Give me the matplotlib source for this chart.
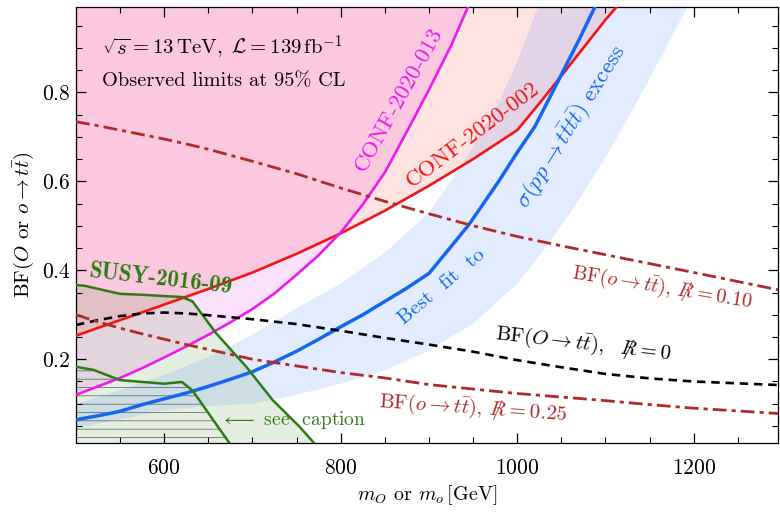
import numpy as np
import matplotlib
matplotlib.use("Agg")
import matplotlib.pyplot as plt

plt.rcParams["font.family"] = "serif"
plt.rcParams["font.serif"] = ["cmr10"]
plt.rcParams["mathtext.fontset"] = "cm"
plt.rcParams["axes.formatter.use_mathtext"] = True
plt.rcParams["axes.unicode_minus"] = False
plt.rcParams["hatch.linewidth"] = 0.5
plt.rcParams["hatch.color"] = "#555555"

# CONF-2020-002 (red) limit
red_m = [500, 550, 600, 650, 700, 750, 800, 850, 900, 950, 1000, 1025, 1050, 1075, 1100, 1116]
red_bf = [0.253, 0.288, 0.323, 0.358, 0.395, 0.437, 0.483, 0.534, 0.59, 0.65, 0.715, 0.775,
          0.837, 0.90, 0.963, 1.0]

# CONF-2020-013 (magenta) limit
mag_m = [500, 525, 550, 575, 600, 625, 650, 675, 700, 725, 750, 775, 800, 825, 850, 875,
         900, 925, 946]
mag_bf = [0.12, 0.139, 0.158, 0.18, 0.204, 0.229, 0.255, 0.283, 0.313, 0.348, 0.39, 0.434,
          0.485, 0.548, 0.62, 0.712, 0.806, 0.905, 1.0]

# best fit to the 4-top excess (blue) and its band
fit_m = [500, 525, 550, 575, 600, 625, 650, 675, 700, 725, 750, 775, 800, 825, 850, 875,
         900, 922, 945, 960, 980, 1000, 1020, 1047, 1070, 1090]
fit_bf = [0.064, 0.073, 0.083, 0.098, 0.111, 0.124, 0.139, 0.155, 0.172, 0.194, 0.218, 0.245,
          0.273, 0.30, 0.33, 0.36, 0.393, 0.446, 0.502, 0.545, 0.603, 0.665, 0.723, 0.828,
          0.918, 1.0]
band_hi_m = [500, 550, 600, 650, 700, 750, 800, 850, 900, 940, 980, 1000, 1025]
band_hi_bf = [0.10, 0.13, 0.165, 0.205, 0.255, 0.315, 0.37, 0.44, 0.53, 0.645, 0.78, 0.87, 1.0]
band_lo_m = [500, 550, 600, 650, 700, 750, 800, 850, 900, 950, 1000, 1030, 1070, 1105, 1150, 1195]
band_lo_bf = [0.045, 0.065, 0.085, 0.095, 0.10, 0.12, 0.145, 0.175, 0.22, 0.28, 0.37, 0.445,
              0.558, 0.67, 0.83, 1.0]

# SUSY-2016-09 (green): outer and hatched contours
susy_m = [500, 510, 550, 575, 600, 620, 632, 659, 693, 723, 753, 775]
susy_bf = [0.367, 0.365, 0.347, 0.345, 0.342, 0.340, 0.330, 0.258, 0.183, 0.108, 0.049, 0.0]
susy2_m = [500, 520, 550, 575, 600, 620, 632, 650, 678]
susy2_bf = [0.183, 0.176, 0.153, 0.149, 0.145, 0.149, 0.13, 0.079, 0.0]

# theory branching fractions
bf_m = [500, 525, 550, 575, 600, 625, 650, 700, 750, 800, 850, 900, 950, 1000, 1050, 1100,
        1150, 1200, 1296]
bfO = [0.277, 0.288, 0.297, 0.303, 0.305, 0.303, 0.299, 0.29, 0.279, 0.264, 0.248, 0.233,
       0.217, 0.198, 0.182, 0.167, 0.157, 0.15, 0.142]
bfo_010 = [0.734, 0.725, 0.715, 0.705, 0.695, 0.684, 0.672, 0.645, 0.617, 0.585, 0.555, 0.527,
           0.50, 0.476, 0.455, 0.435, 0.415, 0.395, 0.356]
bfo_025 = [0.30, 0.284, 0.27, 0.257, 0.245, 0.233, 0.222, 0.20, 0.185, 0.17, 0.158, 0.143,
           0.133, 0.123, 0.115, 0.107, 0.098, 0.09, 0.078]

c_red = "#f51414"
c_mag = "#ee1aee"
c_blue = "#1466f0"
c_green = "#2f7a14"
c_brown = "#b02a2a"

fig = plt.figure(figsize=(7.8, 5.14), dpi=100)
ax = fig.add_axes([0.0974, 0.1375, 0.9006, 0.849])

# shaded regions
ax.fill_between(mag_m, mag_bf, 1.05, color=c_mag, alpha=0.13, lw=0, zorder=1)
ax.fill_between(red_m, red_bf, 1.05, color="red", alpha=0.11, lw=0, zorder=1)
ax.fill_between(susy_m, 0, susy_bf, color="#3d8a1a", alpha=0.13, lw=0, zorder=1)
ax.fill_between(susy2_m, 0, susy2_bf, facecolor="none", edgecolor="#555555",
                hatch="--", lw=0, zorder=1.5)
ax.fill(band_hi_m + band_lo_m[::-1], band_hi_bf + band_lo_bf[::-1],
        color="#1a66ff", alpha=0.12, lw=0, zorder=1)

# limit curves
ax.plot(red_m, red_bf, color=c_red, lw=1.9, zorder=3)
ax.plot(mag_m, mag_bf, color=c_mag, lw=1.9, zorder=3)
ax.plot(fit_m, fit_bf, color=c_blue, lw=2.5, zorder=3)
ax.plot(susy_m, susy_bf, color=c_green, lw=1.8, zorder=3)
ax.plot(susy2_m, susy2_bf, color=c_green, lw=1.8, zorder=3)

ax.plot(bf_m, bfO, color="black", lw=1.9, ls=(0, (3.2, 2.2)), zorder=4)
ax.plot(bf_m, bfo_010, color=c_brown, lw=2.0, ls=(0, (5, 1.8, 1.5, 1.8)), zorder=4)
ax.plot(bf_m, bfo_025, color=c_brown, lw=2.0, ls=(0, (5, 1.8, 1.5, 1.8)), zorder=4)

# annotations
rslash = r"R\!\!\!\!/\,"
ax.text(529, 0.90, r"$\sqrt{s} = 13\,\mathrm{TeV},\ \mathcal{L} = 139\,\mathrm{fb}^{-1}$",
        fontsize=15, ha="left", va="center")
ax.text(529, 0.824, "Observed limits at 95% CL", fontsize=14.7, ha="left", va="center")
ax.text(596, 0.38, "SUSY-2016-09", fontsize=16.5, family="cmb10", color=c_green,
        rotation=-6.5, rotation_mode="anchor", ha="center", va="center", zorder=5)
ax.text(866, 0.783, "CONF-2020-013", fontsize=16.5, color=c_mag,
        rotation=61, rotation_mode="anchor", ha="center", va="center", zorder=5)
ax.text(949, 0.704, "CONF-2020-002", fontsize=16.5, color=c_red,
        rotation=37, rotation_mode="anchor", ha="center", va="center", zorder=5)
ax.text(915, 0.362, "Best  fit  to", fontsize=15, color=c_blue,
        rotation=40, rotation_mode="anchor", ha="center", va="center", zorder=5)
ax.text(1062, 0.722, r"$\sigma(pp \to t\bar{t}t\bar{t})$ excess", fontsize=16.5, color=c_blue,
        rotation=58, rotation_mode="anchor", ha="center", va="center", zorder=5)
ax.text(1164, 0.36, r"BF$(o \to t\bar{t}),\," + rslash + r"= 0.10$", fontsize=14.5,
        color=c_brown, rotation=-9.3, rotation_mode="anchor", ha="center", va="center", zorder=5)
ax.text(1075, 0.235, r"BF$(O \to t\bar{t}),\ \ " + rslash + r"= 0$", fontsize=15,
        color="black", rotation=-6.6, rotation_mode="anchor", ha="center", va="center", zorder=5)
ax.text(950, 0.09, r"BF$(o \to t\bar{t}),\," + rslash + r"= 0.25$", fontsize=15,
        color=c_brown, rotation=-4, rotation_mode="anchor", ha="center", va="center", zorder=5)
ax.text(663, 0.064, r"$\longleftarrow$ see  caption", fontsize=14, color=c_green,
        ha="left", va="center", zorder=5)

ax.set_xlim(500, 1296)
ax.set_ylim(0.011, 0.992)
ax.set_xticks([600, 800, 1000, 1200])
ax.set_xticks(np.arange(550, 1300, 50), minor=True)
ax.set_yticks([0.2, 0.4, 0.6, 0.8])
ax.set_yticks(np.arange(0.05, 1.0, 0.05), minor=True)
ax.tick_params(which="both", direction="in", top=True, right=True, labelsize=15.5)
ax.tick_params(which="major", length=7, width=0.9)
ax.tick_params(which="minor", length=4, width=0.8)
ax.tick_params(axis="x", pad=11)
ax.tick_params(axis="y", pad=4)
for s in ax.spines.values():
    s.set_linewidth(0.9)

ax.set_xlabel(r"$m_O$ or $m_o\,[$GeV$]$", fontsize=14.5)
ax.set_ylabel(r"BF$(O$ or $o \to t\bar{t})$", fontsize=15, labelpad=4)

fig.savefig("out.png", dpi=100)
